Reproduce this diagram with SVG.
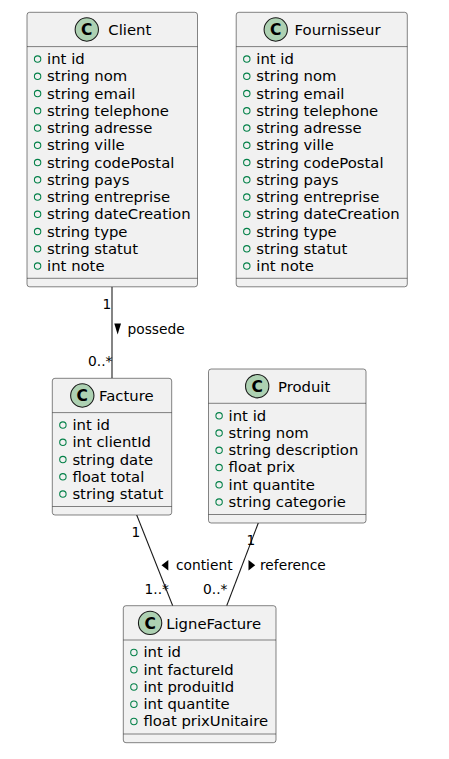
<svg xmlns="http://www.w3.org/2000/svg" width="449" height="759" viewBox="0 0 449 759">
<style>
.box{fill:#F1F1F1;stroke:#181818;stroke-width:0.53}
.sep{stroke:#181818;stroke-width:0.53}
.circ{fill:#ADD1B2;stroke:#181818;stroke-width:1.06}
.cc{font-family:"DejaVu Sans",sans-serif;font-weight:bold;font-size:15.5px;fill:#000;text-anchor:middle}
.title{font-family:"DejaVu Sans",sans-serif;font-size:14.84px;fill:#000}
.attr{font-family:"DejaVu Sans",sans-serif;font-size:14.84px;fill:#000}
.vis{fill:none;stroke:#038048;stroke-width:1.06}
.edge{stroke:#181818;stroke-width:1.06;fill:none}
.lbl{font-family:"DejaVu Sans",sans-serif;font-size:13.78px;fill:#000}
.arr{fill:#000}
</style>
<rect width="449" height="759" fill="#FFFFFF"/>
<g id="connectors">
<line class="edge" x1="112" y1="286.8" x2="112" y2="378.3"/>
<text class="lbl" x="102.5" y="309">1</text>
<polygon class="arr" points="114.3,323.5 121,323.5 117.65,334.5"/>
<text class="lbl" x="127.5" y="334.3">possede</text>
<text class="lbl" x="88" y="366">0..*</text>
<line class="edge" x1="136.7" y1="515" x2="172.7" y2="605.7"/>
<text class="lbl" x="131.5" y="536.5">1</text>
<polygon class="arr" points="161.5,565.3 168.3,560 168.3,570.5"/>
<text class="lbl" x="176" y="570">contient</text>
<text class="lbl" x="144.5" y="594">1..*</text>
<line class="edge" x1="258.3" y1="523" x2="226.7" y2="605.7"/>
<text class="lbl" x="246.5" y="545">1</text>
<polygon class="arr" points="248.5,560 248.5,570.5 255.2,565.3"/>
<text class="lbl" x="260" y="570">reference</text>
<text class="lbl" x="203" y="594">0..*</text>
</g>
<g id="Client">
<rect class="box" x="27" y="12.3" width="170.5" height="274.5" rx="2.65"/>
<ellipse class="circ" cx="86.8" cy="29.5" rx="11.66" ry="11.66"/>
<text class="cc" x="86.8" y="35.1">C</text>
<text class="title" x="108.35" y="35.3">Client</text>
<line class="sep" x1="27" y1="46.6" x2="197.5" y2="46.6"/>
<g class="attr">
<circle class="vis" cx="37.6" cy="59.1" r="3.2"/><text x="47.1" y="64">int id</text>
<circle class="vis" cx="37.6" cy="76.35" r="3.2"/><text x="47.1" y="81.25">string nom</text>
<circle class="vis" cx="37.6" cy="93.6" r="3.2"/><text x="47.1" y="98.5">string email</text>
<circle class="vis" cx="37.6" cy="110.85" r="3.2"/><text x="47.1" y="115.75">string telephone</text>
<circle class="vis" cx="37.6" cy="128.1" r="3.2"/><text x="47.1" y="133">string adresse</text>
<circle class="vis" cx="37.6" cy="145.35" r="3.2"/><text x="47.1" y="150.25">string ville</text>
<circle class="vis" cx="37.6" cy="162.6" r="3.2"/><text x="47.1" y="167.5">string codePostal</text>
<circle class="vis" cx="37.6" cy="179.85" r="3.2"/><text x="47.1" y="184.75">string pays</text>
<circle class="vis" cx="37.6" cy="197.1" r="3.2"/><text x="47.1" y="202">string entreprise</text>
<circle class="vis" cx="37.6" cy="214.35" r="3.2"/><text x="47.1" y="219.25">string dateCreation</text>
<circle class="vis" cx="37.6" cy="231.6" r="3.2"/><text x="47.1" y="236.5">string type</text>
<circle class="vis" cx="37.6" cy="248.85" r="3.2"/><text x="47.1" y="253.75">string statut</text>
<circle class="vis" cx="37.6" cy="266.1" r="3.2"/><text x="47.1" y="271">int note</text>
</g>
<line class="sep" x1="27" y1="278.3" x2="197.5" y2="278.3"/>
</g>
<g id="Fournisseur">
<rect class="box" x="236.2" y="12.3" width="171.1" height="274.5" rx="2.65"/>
<ellipse class="circ" cx="275.75" cy="29.5" rx="11.66" ry="11.66"/>
<text class="cc" x="275.75" y="35.1">C</text>
<text class="title" x="294.6" y="35.3">Fournisseur</text>
<line class="sep" x1="236.2" y1="46.6" x2="407.3" y2="46.6"/>
<g class="attr">
<circle class="vis" cx="246.8" cy="59.1" r="3.2"/><text x="256.3" y="64">int id</text>
<circle class="vis" cx="246.8" cy="76.35" r="3.2"/><text x="256.3" y="81.25">string nom</text>
<circle class="vis" cx="246.8" cy="93.6" r="3.2"/><text x="256.3" y="98.5">string email</text>
<circle class="vis" cx="246.8" cy="110.85" r="3.2"/><text x="256.3" y="115.75">string telephone</text>
<circle class="vis" cx="246.8" cy="128.1" r="3.2"/><text x="256.3" y="133">string adresse</text>
<circle class="vis" cx="246.8" cy="145.35" r="3.2"/><text x="256.3" y="150.25">string ville</text>
<circle class="vis" cx="246.8" cy="162.6" r="3.2"/><text x="256.3" y="167.5">string codePostal</text>
<circle class="vis" cx="246.8" cy="179.85" r="3.2"/><text x="256.3" y="184.75">string pays</text>
<circle class="vis" cx="246.8" cy="197.1" r="3.2"/><text x="256.3" y="202">string entreprise</text>
<circle class="vis" cx="246.8" cy="214.35" r="3.2"/><text x="256.3" y="219.25">string dateCreation</text>
<circle class="vis" cx="246.8" cy="231.6" r="3.2"/><text x="256.3" y="236.5">string type</text>
<circle class="vis" cx="246.8" cy="248.85" r="3.2"/><text x="256.3" y="253.75">string statut</text>
<circle class="vis" cx="246.8" cy="266.1" r="3.2"/><text x="256.3" y="271">int note</text>
</g>
<line class="sep" x1="236.2" y1="278.3" x2="407.3" y2="278.3"/>
</g>
<g id="Facture">
<rect class="box" x="52.3" y="378.3" width="119.4" height="136.7" rx="2.65"/>
<ellipse class="circ" cx="82.3" cy="395.5" rx="11.66" ry="11.66"/>
<text class="cc" x="82.3" y="401.1">C</text>
<text class="title" x="99.1" y="401.3">Facture</text>
<line class="sep" x1="52.3" y1="412.6" x2="171.7" y2="412.6"/>
<g class="attr">
<circle class="vis" cx="62.9" cy="425.1" r="3.2"/><text x="72.4" y="430">int id</text>
<circle class="vis" cx="62.9" cy="442.35" r="3.2"/><text x="72.4" y="447.25">int clientId</text>
<circle class="vis" cx="62.9" cy="459.6" r="3.2"/><text x="72.4" y="464.5">string date</text>
<circle class="vis" cx="62.9" cy="476.85" r="3.2"/><text x="72.4" y="481.75">float total</text>
<circle class="vis" cx="62.9" cy="494.1" r="3.2"/><text x="72.4" y="499">string statut</text>
</g>
<line class="sep" x1="52.3" y1="506.5" x2="171.7" y2="506.5"/>
</g>
<g id="Produit">
<rect class="box" x="208.5" y="369" width="157.5" height="154" rx="2.65"/>
<ellipse class="circ" cx="257.2" cy="386.2" rx="11.66" ry="11.66"/>
<text class="cc" x="257.2" y="391.8">C</text>
<text class="title" x="278" y="392">Produit</text>
<line class="sep" x1="208.5" y1="403.3" x2="366" y2="403.3"/>
<g class="attr">
<circle class="vis" cx="219.1" cy="415.8" r="3.2"/><text x="228.6" y="420.7">int id</text>
<circle class="vis" cx="219.1" cy="433.05" r="3.2"/><text x="228.6" y="437.95">string nom</text>
<circle class="vis" cx="219.1" cy="450.3" r="3.2"/><text x="228.6" y="455.2">string description</text>
<circle class="vis" cx="219.1" cy="467.55" r="3.2"/><text x="228.6" y="472.45">float prix</text>
<circle class="vis" cx="219.1" cy="484.8" r="3.2"/><text x="228.6" y="489.7">int quantite</text>
<circle class="vis" cx="219.1" cy="502.05" r="3.2"/><text x="228.6" y="506.95">string categorie</text>
</g>
<line class="sep" x1="208.5" y1="514.5" x2="366" y2="514.5"/>
</g>
<g id="LigneFacture">
<rect class="box" x="123.3" y="605.7" width="152.7" height="137" rx="2.65"/>
<ellipse class="circ" cx="150.1" cy="622.9" rx="11.66" ry="11.66"/>
<text class="cc" x="150.1" y="628.5">C</text>
<text class="title" x="166.2" y="628.7">LigneFacture</text>
<line class="sep" x1="123.3" y1="640" x2="276" y2="640"/>
<g class="attr">
<circle class="vis" cx="133.9" cy="652.5" r="3.2"/><text x="143.4" y="657.4">int id</text>
<circle class="vis" cx="133.9" cy="669.75" r="3.2"/><text x="143.4" y="674.65">int factureId</text>
<circle class="vis" cx="133.9" cy="687" r="3.2"/><text x="143.4" y="691.9">int produitId</text>
<circle class="vis" cx="133.9" cy="704.25" r="3.2"/><text x="143.4" y="709.15">int quantite</text>
<circle class="vis" cx="133.9" cy="721.5" r="3.2"/><text x="143.4" y="726.4">float prixUnitaire</text>
</g>
<line class="sep" x1="123.3" y1="734" x2="276" y2="734"/>
</g>
</svg>
